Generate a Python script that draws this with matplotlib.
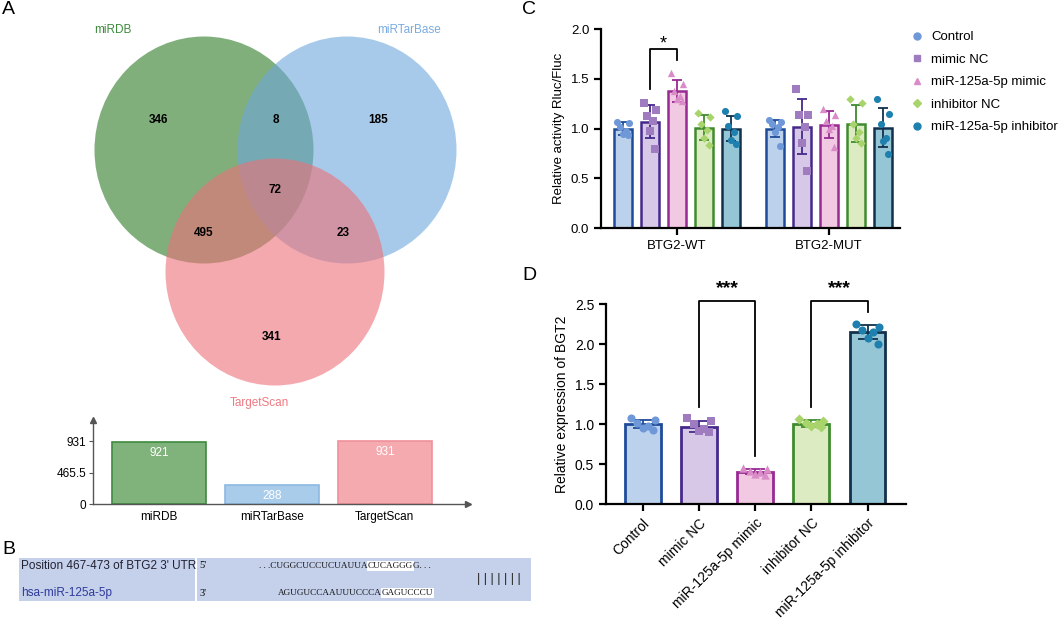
import matplotlib
matplotlib.use('Agg')
import matplotlib.pyplot as plt
from matplotlib.patches import Ellipse, Rectangle
from matplotlib.lines import Line2D
import numpy as np

plt.rcParams['font.family'] = ['Liberation Sans', 'DejaVu Sans']

# ---------------- data ----------------
venn_sets = ['miRDB', 'miRTarBase', 'TargetScan']
venn_only_mirdb = 346
venn_mirdb_mirtar = 8
venn_only_mirtar = 185
venn_all = 72
venn_mirdb_ts = 495
venn_mirtar_ts = 23
venn_only_ts = 341
list_sizes = [921, 288, 931]
list_ticks = [0, 465.5, 931]
list_tick_labels = ['0', '465.5', '931']

seq_label_top = "Position 467-473 of BTG2 3' UTR"
seq_label_bot = "hsa-miR-125a-5p"
utr_prefix = ". . .CUGGCUCCUCUAUUA"
utr_site = "CUCAGGG"
utr_suffix = "G. . ."
mir_prefix = "AGUGUCCAAUUUCCCA"
mir_seed = "GAGUCCCU"

treatments = ['Control', 'mimic NC', 'miR-125a-5p mimic', 'inhibitor NC',
              'miR-125a-5p inhibitor']
groups_c = ['BTG2-WT', 'BTG2-MUT']
c_means_wt = [1.00, 1.07, 1.38, 1.01, 1.00]
c_sd_wt = [0.07, 0.17, 0.11, 0.13, 0.13]
c_means_mut = [1.00, 1.02, 1.04, 1.05, 1.01]
c_sd_mut = [0.09, 0.28, 0.14, 0.19, 0.20]
c_points_wt = [
    [1.07, 1.06, 1.02, 0.97, 0.94, 0.93],
    [1.26, 1.19, 1.13, 1.08, 0.97, 0.79],
    [1.56, 1.45, 1.38, 1.33, 1.30, 1.28],
    [1.16, 1.12, 1.05, 0.98, 0.90, 0.83],
    [1.18, 1.13, 1.03, 0.96, 0.88, 0.84],
]
c_points_mut = [
    [1.09, 1.07, 1.05, 1.02, 0.96, 0.82],
    [1.40, 1.14, 1.14, 1.02, 0.85, 0.57],
    [1.20, 1.14, 1.08, 1.03, 0.99, 0.81],
    [1.30, 1.26, 1.05, 0.96, 0.90, 0.85],
    [1.30, 1.15, 1.05, 0.90, 0.87, 0.74],
]

d_means = [1.00, 0.97, 0.41, 1.01, 2.15]
d_sd = [0.05, 0.07, 0.035, 0.045, 0.09]
d_points = [
    [1.08, 1.05, 1.02, 0.98, 0.95, 0.93],
    [1.08, 1.04, 1.00, 0.94, 0.92, 0.90],
    [0.46, 0.44, 0.42, 0.40, 0.38, 0.37],
    [1.07, 1.04, 1.02, 1.00, 0.98, 0.97],
    [2.26, 2.22, 2.18, 2.15, 2.08, 2.01],
]

# ---------------- styles ----------------
fills = ['#BCD1EC', '#D6C8E6', '#F2C9E2', '#DDEBC3', '#94C6D6']
edges = ['#1F4C99', '#45298C', '#982A93', '#3F8C2F', '#13314C']
mcols = ['#6F98D8', '#9F7BC0', '#DA8CC8', '#A9D46C', '#1E80AE']
markers = ['o', 's', '^', 'D', 'o']
msizes = [26, 26, 28, 18, 26]
jit = np.array([-0.33, 0.33, -0.15, 0.15, 0.0, 0.28])

W, H = 1064, 618
fig = plt.figure(figsize=(W / 100, H / 100), dpi=100)


def px_axes(x0, y0, x1, y1):
    return fig.add_axes([x0 / W, 1 - y1 / H, (x1 - x0) / W, (y1 - y0) / H])


bg = fig.add_axes([0, 0, 1, 1])
bg.set_xlim(0, W)
bg.set_ylim(H, 0)
bg.axis('off')

# panel letters
for lab, (x, y) in zip('ABCD', [(8, 10), (9, 550), (529, 10), (529, 275)]):
    bg.text(x, y, lab, fontsize=14, ha='center', va='center')

# ---------------- Panel A: Venn ----------------
venn_cols = ['#2B7B25', '#6EA8DC', '#EE7078']
bg.add_patch(Ellipse((204, 150), 219, 227, facecolor=venn_cols[0], alpha=0.6, lw=0))
bg.add_patch(Ellipse((347, 150), 219, 227, facecolor=venn_cols[1], alpha=0.6, lw=0))
bg.add_patch(Ellipse((275, 272), 219, 227, facecolor=venn_cols[2], alpha=0.6, lw=0))
bg.text(113, 30, venn_sets[0], color='#3C8A3C', fontsize=8.5, ha='center', va='center')
bg.text(409, 30, venn_sets[1], color='#79ABE0', fontsize=8.5, ha='center', va='center')
bg.text(259, 403, venn_sets[2], color='#EE7A82', fontsize=8.5, ha='center', va='center')
for val, (x, y) in [(venn_only_mirdb, (158, 120)), (venn_mirdb_mirtar, (276, 120)),
                    (venn_only_mirtar, (378, 120)), (venn_all, (275, 190)),
                    (venn_mirdb_ts, (204, 233)), (venn_mirtar_ts, (343, 233)),
                    (venn_only_ts, (272, 337))]:
    bg.text(x, y, str(val), fontsize=8.5, fontweight='bold', ha='center', va='center')
bg.text(283, 429, 'Size of each list', fontsize=8, style='italic', ha='center', va='center')

# ---------------- Panel A: list sizes bar chart ----------------
axl = px_axes(93.3, 420, 468, 504.3)
axl.set_xlim(-0.58, 2.736)
axl.set_ylim(0, 1240)
lfill = ['#80B27B', '#AACCEB', '#F5AAB0']
ledge = ['#3F8A3F', '#8BB8E2', '#F0909A']
xl = np.arange(len(list_sizes))
bars = axl.bar(xl, list_sizes, width=0.836, color=lfill, edgecolor=ledge, lw=1.2)
for xi, v in zip(xl, list_sizes):
    axl.annotate(str(v), (xi, v), xytext=(0, -8), textcoords='offset points',
                 ha='center', va='center', color='white', fontsize=8.5)
for s in ['top', 'right']:
    axl.spines[s].set_visible(False)
for s in ['left', 'bottom']:
    axl.spines[s].set_color('#555555')
    axl.spines[s].set_linewidth(1.0)
axl.set_yticks(list_ticks)
axl.set_yticklabels(list_tick_labels, fontsize=8.5)
axl.set_xticks(xl)
axl.set_xticklabels(venn_sets, fontsize=8.5)
axl.tick_params(axis='y', length=3, color='#555555', pad=2)
axl.tick_params(axis='x', length=0, pad=5)
axl.plot([0], [1], marker='^', color='#555555', ms=5, transform=axl.transAxes, clip_on=False)
axl.plot([1], [0], marker='>', color='#555555', ms=5, transform=axl.transAxes, clip_on=False)

# ---------------- Panel B ----------------
boxc = '#C5D0EB'
bg.add_patch(Rectangle((19, 558), 176, 43, facecolor=boxc, lw=0))
bg.add_patch(Rectangle((197, 558), 334, 43, facecolor=boxc, lw=0))
bg.text(21, 566, seq_label_top, fontsize=8.5, color='#222233', va='center', ha='left')
bg.text(21, 593, seq_label_bot, fontsize=8.5, color='#2E3A9A', va='center', ha='left')
bg.text(199, 566, "5'", fontsize=7.5, family='Liberation Serif', va='center')
bg.text(199, 593, "3'", fontsize=7.5, family='Liberation Serif', va='center')
seqfont = dict(fontsize=6.6, family='Liberation Serif', va='center', color='#111111')
t1 = bg.text(368, 566, utr_site, ha='left',
             bbox=dict(facecolor='white', edgecolor='none', pad=0.6), **seqfont)
bg.annotate(utr_prefix, xy=(0, 0.5), xycoords=t1, ha='right', **seqfont)
bg.annotate(utr_suffix, xy=(1, 0.5), xycoords=t1, ha='left', **seqfont)
t2 = bg.text(382, 593, mir_seed, ha='left',
             bbox=dict(facecolor='white', edgecolor='none', pad=0.6), **seqfont)
bg.annotate(mir_prefix, xy=(0, 0.5), xycoords=t2, ha='right', **seqfont)
bg.text(499, 579, '| | | | | | |', fontsize=9, ha='center', va='center', color='#222222')


def style_prism(ax, fs):
    for s in ['top', 'right']:
        ax.spines[s].set_visible(False)
    for s in ['left', 'bottom']:
        ax.spines[s].set_linewidth(1.6)
    ax.tick_params(width=1.6, length=5, labelsize=fs, direction='out')


# ---------------- Panel C ----------------
axc = px_axes(601, 29, 900, 228)
unit_off = 0.178
bw_c = 0.115
for g, (means, sds, pts) in enumerate([(c_means_wt, c_sd_wt, c_points_wt),
                                       (c_means_mut, c_sd_mut, c_points_mut)]):
    for i in range(len(treatments)):
        x = g + (i - 2) * unit_off
        axc.bar(x, means[i], width=bw_c, color=fills[i], edgecolor=edges[i], lw=1.8, zorder=2)
        axc.errorbar(x, means[i], yerr=sds[i], color=edges[i], capsize=3.5, lw=1.3,
                     capthick=1.3, zorder=3)
        axc.scatter(x + jit * bw_c, pts[i], marker=markers[i], s=msizes[i], color=mcols[i],
                    lw=0, zorder=4)
axc.set_xlim(-0.5, 1.467)
axc.set_ylim(0, 2.0)
axc.set_yticks([0, 0.5, 1.0, 1.5, 2.0])
axc.set_yticklabels(['0.0', '0.5', '1.0', '1.5', '2.0'])
axc.set_xticks([0, 1])
axc.set_xticklabels(groups_c)
style_prism(axc, 9.5)
axc.set_ylabel('Relative activity Rluc/Fluc', fontsize=9.5, labelpad=4)
xa, xb = -1 * unit_off, 0
axc.plot([xa, xa, xb, xb], [1.40, 1.80, 1.80, 1.69], color='k', lw=1.3, zorder=5)
axc.text((xa + xb) / 2, 1.85, '*', ha='center', va='center', fontsize=13)

handles = [Line2D([], [], ls='none', marker=markers[i], color=mcols[i],
                  ms=5 if markers[i] != 'D' else 4) for i in range(len(treatments))]
fig.legend(handles, treatments, loc='upper left', bbox_to_anchor=(910 / W, 1 - 31 / H),
           frameon=False, fontsize=9.5, handlelength=1.0, handletextpad=0.6,
           labelspacing=0.78, borderaxespad=0, borderpad=0)

# ---------------- Panel D ----------------
axd = px_axes(606, 304.3, 906, 504.3)
xd = np.arange(len(treatments))
bw_d = 0.64
for i in range(len(treatments)):
    axd.bar(xd[i], d_means[i], width=bw_d, color=fills[i], edgecolor=edges[i], lw=2.0, zorder=2)
    axd.errorbar(xd[i], d_means[i], yerr=d_sd[i], color=edges[i], capsize=7, lw=1.3,
                 capthick=1.3, zorder=3)
    axd.scatter(xd[i] + jit * bw_d, d_points[i], marker=markers[i], s=msizes[i] + 8,
                color=mcols[i], lw=0, zorder=4)
axd.set_xlim(-0.653, 4.685)
axd.set_ylim(0, 2.5)
axd.set_yticks([0, 0.5, 1.0, 1.5, 2.0, 2.5])
axd.set_yticklabels(['0.0', '0.5', '1.0', '1.5', '2.0', '2.5'])
axd.set_xticks(xd)
axd.set_xticklabels(treatments, rotation=45, ha='right', rotation_mode='anchor')
style_prism(axd, 10)
axd.set_ylabel('Relative expression of BGT2', fontsize=10, labelpad=4)
axd.plot([1, 1, 2, 2], [1.22, 2.545, 2.545, 0.60], color='k', lw=1.3, clip_on=False, zorder=5)
axd.plot([3, 3, 4, 4], [1.22, 2.545, 2.545, 2.40], color='k', lw=1.3, clip_on=False, zorder=5)
axd.text(1.5, 2.70, '***', ha='center', va='center', fontsize=14, fontweight='bold')
axd.text(3.5, 2.70, '***', ha='center', va='center', fontsize=14, fontweight='bold')

fig.savefig('out.png', dpi=100)
